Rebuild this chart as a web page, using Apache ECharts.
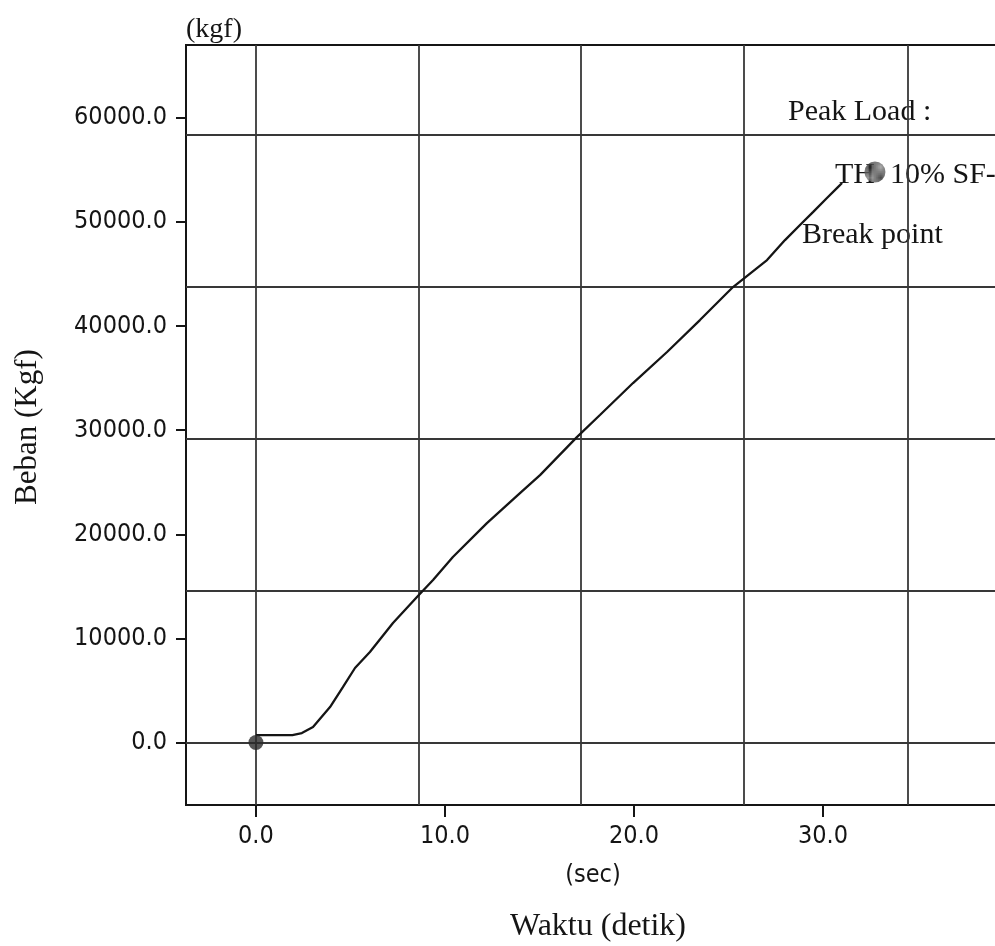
<!DOCTYPE html>
<html>
<head>
<meta charset="utf-8">
<script src="https://cdn.jsdelivr.net/npm/echarts@6/dist/echarts.min.js"></script>
<style>
  html, body { margin: 0; padding: 0; background: #ffffff; }
  #chart { width: 995px; height: 946px; }
</style>
</head>
<body>
<div id="chart"></div>
<script>
// Load (kgf) recorded against time (sec) during the tensile test
const timeSec = [0, 1.93, 2.43, 3.02, 3.92, 4.60, 5.24, 6.03, 7.25, 8.52, 9.37, 10.42, 12.22, 13.97, 15.03, 16.98, 18.20, 19.95, 21.75, 23.49, 25.24, 27.04, 27.99, 28.89, 29.47, 30.21, 30.79, 31.01];
const loadKgf = [720, 720, 912, 1490, 3410, 5330, 7160, 8690, 11480, 13980, 15610, 17820, 21080, 23960, 25690, 29340, 31460, 34530, 37510, 40580, 43750, 46340, 48260, 49900, 50950, 52300, 53350, 53740];

const startPoint = [0, 0];
const peakPoint = [32.75, 54800];

// Axis tick values and labels
const xTickValues = [0, 10, 20, 30];
const yTickValues = [0, 10000, 20000, 30000, 40000, 50000, 60000];

// Instrument grid lines (independent of the labelled ticks)
const gridTimes = [0, 8.6, 17.2, 25.8, 34.5];
const gridLoads = [0, 14600, 29200, 43800, 58400];

const peakTexts = ['Peak Load :', 'TH  10% SF-', 'Break point'];

const tickFont = "'DejaVu Sans Condensed', 'DejaVu Sans', sans-serif";
const serifFont = "'Liberation Serif', 'DejaVu Serif', serif";
const ink = '#151515';

// dithered fill for the peak marker
function ditherPattern() {
  const c = document.createElement('canvas');
  c.width = 2; c.height = 2;
  const g = c.getContext('2d');
  g.fillStyle = '#9a9a9a'; g.fillRect(0, 0, 2, 2);
  g.fillStyle = '#1e1e1e'; g.fillRect(0, 0, 1, 1); g.fillRect(1, 1, 1, 1);
  return c;
}

const chart = echarts.init(document.getElementById('chart'), null, { renderer: 'canvas' });

const option = {
  backgroundColor: '#ffffff',
  animation: false,
  grid: {
    left: 186, top: 45, bottom: 141, right: -17,
    outerBoundsMode: 'none',
    show: true, borderColor: ink, borderWidth: 2, backgroundColor: 'transparent'
  },
  xAxis: {
    type: 'value', min: -3.7, max: 40,
    name: '(sec)', nameLocation: 'middle', nameGap: 70,
    nameTextStyle: { fontFamily: tickFont, fontSize: 25, color: ink, verticalAlign: 'middle', padding: [0, 12, 0, 0] },
    axisLine: { show: false, onZero: false },
    axisTick: { show: true, customValues: xTickValues, length: 12, lineStyle: { color: ink, width: 2 } },
    axisLabel: { show: true, customValues: xTickValues, margin: 19, fontFamily: tickFont, fontSize: 25, color: ink,
      formatter: v => v.toFixed(1) },
    splitLine: { show: false }
  },
  yAxis: {
    type: 'value', min: -6000, max: 67000,
    name: '(kgf)', nameLocation: 'end', nameGap: 15,
    nameTextStyle: { fontFamily: serifFont, fontSize: 28, color: ink, align: 'left', verticalAlign: 'middle' },
    axisLine: { show: false, onZero: false },
    axisTick: { show: true, customValues: yTickValues, length: 10, lineStyle: { color: ink, width: 2 } },
    axisLabel: { show: true, customValues: yTickValues, margin: 19, fontFamily: tickFont, fontSize: 25, color: ink,
      formatter: v => v.toFixed(1) },
    splitLine: { show: false }
  },
  series: [
    {
      name: 'grid',
      type: 'line',
      data: [],
      silent: true,
      markLine: {
        silent: true,
        symbol: 'none',
        label: { show: false },
        lineStyle: { type: 'solid', color: '#383838', width: 1.8 },
        data: gridTimes.map(t => ({ xAxis: t })).concat(gridLoads.map(v => ({ yAxis: v })))
      }
    },
    {
      name: 'Beban',
      type: 'line',
      data: timeSec.map((t, i) => [t, loadKgf[i]]),
      showSymbol: false,
      lineStyle: { color: ink, width: 2.3 },
      z: 5
    },
    {
      name: 'start',
      type: 'scatter',
      data: [startPoint],
      symbolSize: 15,
      itemStyle: { color: '#2b2b2b' },
      z: 6
    },
    {
      name: 'peak',
      type: 'scatter',
      data: [peakPoint],
      symbolSize: 21,
      itemStyle: { color: { image: ditherPattern(), repeat: 'repeat' } },
      z: 200
    }
  ]
};

chart.setOption(option);

// Text placed around the peak marker and outer axis titles
const pk = chart.convertToPixel({ gridIndex: 0 }, peakPoint);
const annotStyle = { fontFamily: serifFont, fontSize: 30, fill: ink, verticalAlign: 'middle', align: 'left' };
chart.setOption({
  graphic: [
    { type: 'text', z: 1, x: pk[0] - 87, y: pk[1] - 60, style: Object.assign({ text: peakTexts[0] }, annotStyle) },
    { type: 'text', z: 1, x: pk[0] - 40, y: pk[1] + 3, style: Object.assign({ text: peakTexts[1] }, annotStyle) },
    { type: 'text', z: 1, x: pk[0] - 73, y: pk[1] + 63, style: Object.assign({ text: peakTexts[2] }, annotStyle) },
    { type: 'text', x: 28, y: 427, rotation: Math.PI / 2,
      style: { text: 'Beban (Kgf)', fontFamily: serifFont, fontSize: 31, fill: ink, align: 'center', verticalAlign: 'middle' } },
    { type: 'text', x: 598, y: 927,
      style: { text: 'Waktu (detik)', fontFamily: serifFont, fontSize: 32, fill: ink, align: 'center', verticalAlign: 'middle' } }
  ]
});
</script>
</body>
</html>
